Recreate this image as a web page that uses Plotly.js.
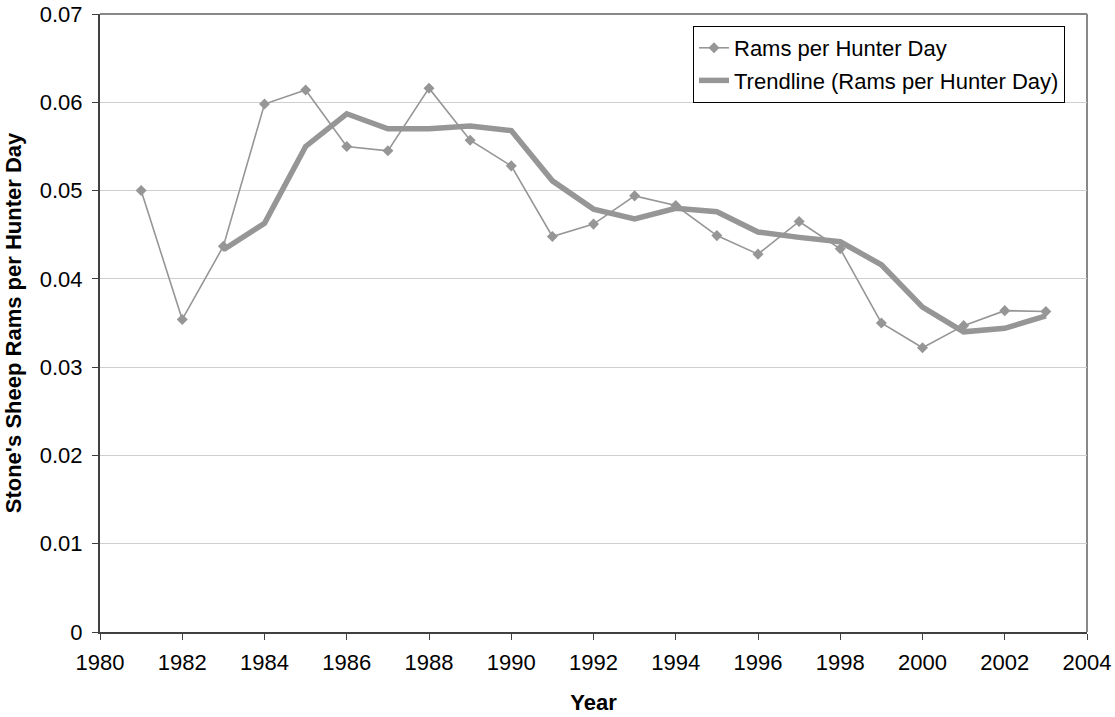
<!DOCTYPE html>
<html>
<head>
<meta charset="utf-8">
<script src="https://cdn.plot.ly/plotly-3.0.1.min.js"></script>
<style>
  html, body { margin: 0; padding: 0; background: #ffffff; }
  #chart { width: 1115px; height: 717px; }
</style>
</head>
<body>
<div id="chart"></div>
<script>
// Data
const years = [1981, 1982, 1983, 1984, 1985, 1986, 1987, 1988, 1989, 1990, 1991, 1992,
               1993, 1994, 1995, 1996, 1997, 1998, 1999, 2000, 2001, 2002, 2003];
const ramsPerHunterDay = [0.0500, 0.0354, 0.0437, 0.0598, 0.0614, 0.0550, 0.0545, 0.0616,
                          0.0557, 0.0528, 0.0448, 0.0462, 0.0494, 0.0483, 0.0449, 0.0428,
                          0.0465, 0.0434, 0.0350, 0.0322, 0.0347, 0.0364, 0.0363];
const trendYears = [1983, 1984, 1985, 1986, 1987, 1988, 1989, 1990, 1991, 1992, 1993,
                    1994, 1995, 1996, 1997, 1998, 1999, 2000, 2001, 2002, 2003];
const trendValues = [0.0433, 0.0463, 0.0550, 0.0587, 0.0570, 0.0570, 0.0573, 0.0568,
                     0.0511, 0.0479, 0.0468, 0.0480, 0.0476, 0.0453, 0.0447, 0.0442,
                     0.0416, 0.0368, 0.0340, 0.0344, 0.0358];
const seriesName = "Rams per Hunter Day";
const trendName = "Trendline (Rams per Hunter Day)";
const xTitle = "Year";
const yTitle = "Stone's Sheep Rams per Hunter Day";

const gray = "#969696";
const fontFam = "Liberation Sans, Arial, sans-serif";
const fs = 22;

const traces = [
  {
    x: years, y: ramsPerHunterDay, name: seriesName, type: "scatter",
    mode: "lines+markers", legendgroup: "a",
    line: { color: gray, width: 1.6 },
    marker: { symbol: "diamond", size: 8.5, color: gray }
  },
  {
    x: trendYears, y: trendValues, name: trendName, type: "scatter",
    mode: "lines", legendgroup: "b",
    line: { color: gray, width: 5.5 }
  }
];

const layout = {
  width: 1115, height: 717,
  margin: { l: 100, r: 28, t: 14, b: 85 },
  paper_bgcolor: "#ffffff", plot_bgcolor: "#ffffff",
  font: { family: fontFam, size: fs, color: "#000000" },
  showlegend: true,
  legend: {
    x: 0.6008, y: 0.9806, xanchor: "left", yanchor: "top",
    bgcolor: "#ffffff", bordercolor: "#000000", borderwidth: 1,
    font: { family: fontFam, size: fs, color: "#000000" },
    tracegroupgap: 1, traceorder: "grouped"
  },
  xaxis: {
    range: [1980, 2004], dtick: 2, tick0: 1980,
    showgrid: false, zeroline: false,
    showline: true, linecolor: "#404040", linewidth: 2,
    ticks: "outside", ticklen: 6, tickcolor: "#404040", tickwidth: 1,
    ticklabelstandoff: 4,
    tickfont: { family: fontFam, size: fs, color: "#000000" },
    title: { text: xTitle, font: { family: fontFam, size: fs, color: "#000000", weight: "bold" }, standoff: 20 }
  },
  yaxis: {
    range: [0, 0.07], dtick: 0.01, tick0: 0,
    showgrid: true, gridcolor: "#cfcfcf", gridwidth: 1,
    zeroline: false,
    showline: true, linecolor: "#404040", linewidth: 2,
    ticks: "outside", ticklen: 6, tickcolor: "#404040", tickwidth: 1,
    ticklabelstandoff: 5,
    tickfont: { family: fontFam, size: fs, color: "#000000" },
    title: { text: yTitle, font: { family: fontFam, size: fs, color: "#000000", weight: "bold" }, standoff: 12 }
  },
  shapes: [
    { type: "line", xref: "paper", yref: "paper", x0: 0, x1: 1, y0: 1, y1: 1,
      line: { color: "#888888", width: 2 }, layer: "below" },
    { type: "line", xref: "paper", yref: "paper", x0: 1, x1: 1, y0: 0, y1: 1,
      line: { color: "#888888", width: 2 }, layer: "below" }
  ]
};

Plotly.newPlot("chart", traces, layout, { displayModeBar: false, staticPlot: true });
</script>
</body>
</html>
